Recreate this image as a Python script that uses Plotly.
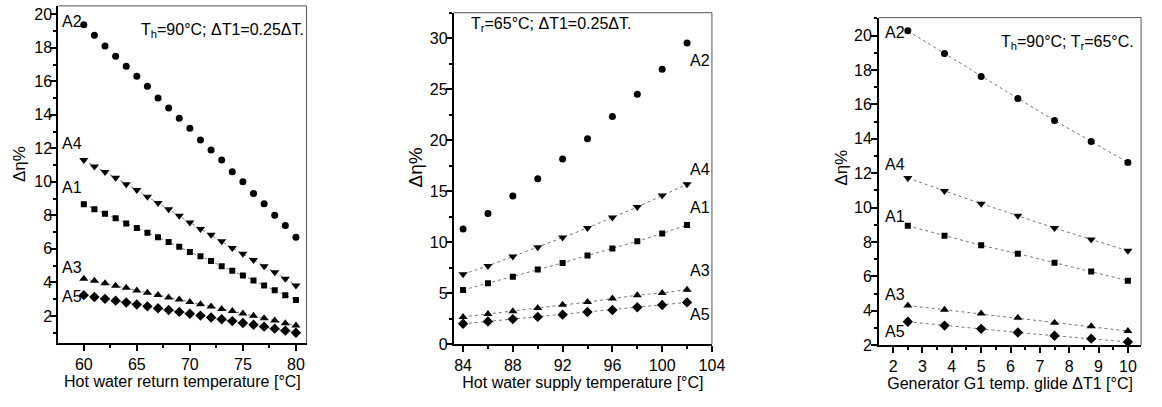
import plotly.graph_objects as go

# ---------------- data ----------------
series_names = ["A2", "A4", "A1", "A3", "A5"]
marker_symbols = ["circle", "triangle-down", "square", "triangle-up", "diamond"]

# Panel 1: hot water return temperature
x_return = [60, 61, 62, 63, 64, 65, 66, 67, 68, 69, 70, 71, 72, 73, 74, 75, 76, 77, 78, 79, 80]
p1_A2 = [19.38, 18.75, 18.1, 17.5, 16.9, 16.3, 15.7, 15.0, 14.4, 13.8, 13.2, 12.5, 11.9, 11.3, 10.6, 10.0, 9.3, 8.7, 8.0, 7.4, 6.7]
p1_A4 = [11.31, 10.92, 10.59, 10.24, 9.85, 9.52, 9.11, 8.74, 8.36, 7.97, 7.58, 7.19, 6.84, 6.45, 6.06, 5.71, 5.34, 4.97, 4.61, 4.22, 3.81]
p1_A1 = [8.67, 8.37, 8.1, 7.83, 7.52, 7.25, 6.97, 6.7, 6.41, 6.12, 5.81, 5.56, 5.27, 4.97, 4.7, 4.41, 4.12, 3.81, 3.53, 3.24, 2.95]
p1_A3 = [4.22, 4.1, 3.95, 3.8, 3.68, 3.52, 3.38, 3.25, 3.1, 2.98, 2.83, 2.7, 2.56, 2.42, 2.29, 2.15, 2.01, 1.86, 1.72, 1.57, 1.43]
p1_A5 = [3.24, 3.13, 3.02, 2.91, 2.8, 2.68, 2.57, 2.46, 2.35, 2.24, 2.13, 2.02, 1.91, 1.8, 1.69, 1.58, 1.47, 1.36, 1.24, 1.12, 1.0]

# Panel 2: hot water supply temperature
x_supply = [84, 86, 88, 90, 92, 94, 96, 98, 100, 102]
p2_A2 = [11.3, 12.81, 14.54, 16.23, 18.16, 20.14, 22.32, 24.5, 26.96, 29.52]
p2_A4 = [6.87, 7.68, 8.61, 9.51, 10.45, 11.4, 12.42, 13.45, 14.57, 15.69]
p2_A1 = [5.32, 5.97, 6.61, 7.32, 7.97, 8.7, 9.38, 10.09, 10.85, 11.69]
p2_A3 = [2.68, 2.97, 3.23, 3.55, 3.87, 4.13, 4.48, 4.8, 5.03, 5.35]
p2_A5 = [2.0, 2.23, 2.46, 2.68, 2.9, 3.16, 3.36, 3.62, 3.84, 4.1]

# Panel 3: generator G1 temperature glide
x_glide = [2.5, 3.75, 5, 6.25, 7.5, 8.75, 10]
p3_A2 = [20.28, 18.96, 17.62, 16.35, 15.07, 13.84, 12.63]
p3_A4 = [11.72, 10.96, 10.23, 9.53, 8.81, 8.15, 7.49]
p3_A1 = [8.94, 8.37, 7.81, 7.32, 6.79, 6.28, 5.75]
p3_A3 = [4.31, 4.06, 3.84, 3.59, 3.31, 3.1, 2.82]
p3_A5 = [3.36, 3.14, 2.95, 2.74, 2.55, 2.38, 2.19]

panel_titles_x = ["Hot water return temperature [°C]",
                  "Hot water supply temperature [°C]",
                  "Generator G1 temp. glide ΔT1 [°C]"]
y_title = "Δη%"
notes = ["T<sub>h</sub>=90°C; ΔT1=0.25ΔT.",
         "T<sub>r</sub>=65°C; ΔT1=0.25ΔT.",
         "T<sub>h</sub>=90°C; T<sub>r</sub>=65°C."]

# label positions (data coords) for series names
p1_lbl_x = [57.8] * 5
p1_lbl_y = [19.55, 12.28, 9.66, 4.9, 3.15]
p2_lbl_x = [102.1] * 5
p2_lbl_y = [27.86, 17.13, 13.45, 7.2, 2.88]
p3_lbl_x = [1.64] * 5
p3_lbl_y = [20.19, 12.53, 9.51, 4.97, 2.8]

# ---------------- figure ----------------
FONT = "Arial, 'Liberation Sans', Helvetica, sans-serif"
W, H = 1162, 407

fig = go.Figure()

panels = [
    dict(x=x_return, ys=[p1_A2, p1_A4, p1_A1, p1_A3, p1_A5], xa="x", ya="y",
         lx=p1_lbl_x, ly=p1_lbl_y, noline=["A2"]),
    dict(x=x_supply, ys=[p2_A2, p2_A4, p2_A1, p2_A3, p2_A5], xa="x2", ya="y2",
         lx=p2_lbl_x, ly=p2_lbl_y, noline=["A2"]),
    dict(x=x_glide, ys=[p3_A2, p3_A4, p3_A1, p3_A3, p3_A5], xa="x3", ya="y3",
         lx=p3_lbl_x, ly=p3_lbl_y, noline=[]),
]

marker_sizes = {"circle": 7, "triangle-down": 8, "square": 6, "triangle-up": 8, "diamond": 8}

for p in panels:
    for name, sym, yv in zip(series_names, marker_symbols, p["ys"]):
        show_line = name not in p["noline"]
        fig.add_trace(go.Scatter(
            x=p["x"], y=yv, xaxis=p["xa"], yaxis=p["ya"],
            mode="lines+markers" if show_line else "markers",
            line=dict(color="#777777", width=1, dash="dot"),
            marker=dict(symbol=sym, size=marker_sizes[sym], color="black"),
            showlegend=False, name=name,
        ))
    for name, lx, ly in zip(series_names, p["lx"], p["ly"]):
        fig.add_annotation(x=lx, y=ly, xref=p["xa"], yref=p["ya"], text=name,
                           showarrow=False, xanchor="left", yanchor="middle",
                           font=dict(family=FONT, size=16, color="black"))

# domains from pixel positions
def xdom(a, b):
    return [a / W, b / W]

def ydom(top, bottom):
    return [1 - bottom / H, 1 - top / H]

axis_common = dict(showline=True, linecolor="black", linewidth=2, ticks="outside",
                   ticklen=6, tickwidth=1.5, tickcolor="black", showgrid=False,
                   zeroline=False, mirror=False,
                   tickfont=dict(family=FONT, size=16, color="black"))

layouts = [
    dict(xd=xdom(59, 310), yd=ydom(6, 351), xr=[57.6, 81.0], yr=[0.37, 20.5],
         xt=dict(tick0=60, dtick=5), xm=2.5, yt=dict(tick0=2, dtick=2), ym=1,
         ytitle=(20, 168, 17), lso=-5),
    dict(xd=xdom(459, 720), yd=ydom(13, 352), xr=[83.26, 104.0], yr=[0, 32.5],
         xt=dict(tick0=84, dtick=4), xm=2, yt=dict(tick0=0, dtick=5), ym=2.5,
         ytitle=(420, 171, 19), lso=-5),
    dict(xd=xdom(889, 1154), yd=ydom(18, 353), xr=[1.52, 10.45], yr=[2, 21.05],
         xt=dict(tick0=2, dtick=1), xm=0.5, yt=dict(tick0=2, dtick=2), ym=1,
         ytitle=(851, 171, 17), lso=-4),
]

for i, (L, xt_title) in enumerate(zip(layouts, panel_titles_x)):
    sfx = "" if i == 0 else str(i + 1)
    xa = dict(axis_common, domain=L["xd"], range=L["xr"], anchor="y" + sfx,
              tickmode="linear", **L["xt"],
              minor=dict(ticks="outside", ticklen=3, tickcolor="black", dtick=L["xm"], showgrid=False),
              title=dict(text=xt_title, standoff=2,
                         font=dict(family=FONT, size=16, color="black")))
    ya = dict(axis_common, domain=L["yd"], range=L["yr"], anchor="x" + sfx,
              tickmode="linear", **L["yt"], ticklabelstandoff=L["lso"],
              minor=dict(ticks="outside", ticklen=3, tickcolor="black", dtick=L["ym"], showgrid=False))
    fig.layout["xaxis" + sfx] = xa
    fig.layout["yaxis" + sfx] = ya
    # y axis title as rotated text
    tx, ty, tsz = L["ytitle"]
    fig.add_annotation(x=tx / W, y=1 - ty / H, xref="paper", yref="paper", text=y_title,
                       textangle=-90, showarrow=False, xanchor="center", yanchor="middle",
                       font=dict(family=FONT, size=tsz, color="black"))
    # top and right frame edges
    fig.add_shape(type="line", xref="paper", yref="paper",
                  x0=L["xd"][0], x1=L["xd"][1], y0=L["yd"][1], y1=L["yd"][1],
                  line=dict(color="#555555", width=1))
    fig.add_shape(type="line", xref="paper", yref="paper",
                  x0=L["xd"][1], x1=L["xd"][1], y0=L["yd"][0], y1=L["yd"][1],
                  line=dict(color="#555555", width=1))

# condition notes
note_pos = [(309, 31, "right"), (474, 25, "left"), (1149, 43, "right")]
for txt, (px, py, anc) in zip(notes, note_pos):
    fig.add_annotation(x=px / W, y=1 - py / H, xref="paper", yref="paper", text=txt,
                       showarrow=False, xanchor=anc, yanchor="middle",
                       font=dict(family=FONT, size=16, color="black"))

fig.update_layout(width=W, height=H, margin=dict(l=0, r=0, t=0, b=0),
                  paper_bgcolor="white", plot_bgcolor="white",
                  font=dict(family=FONT, size=16, color="black"))

fig.write_html("out.html")
